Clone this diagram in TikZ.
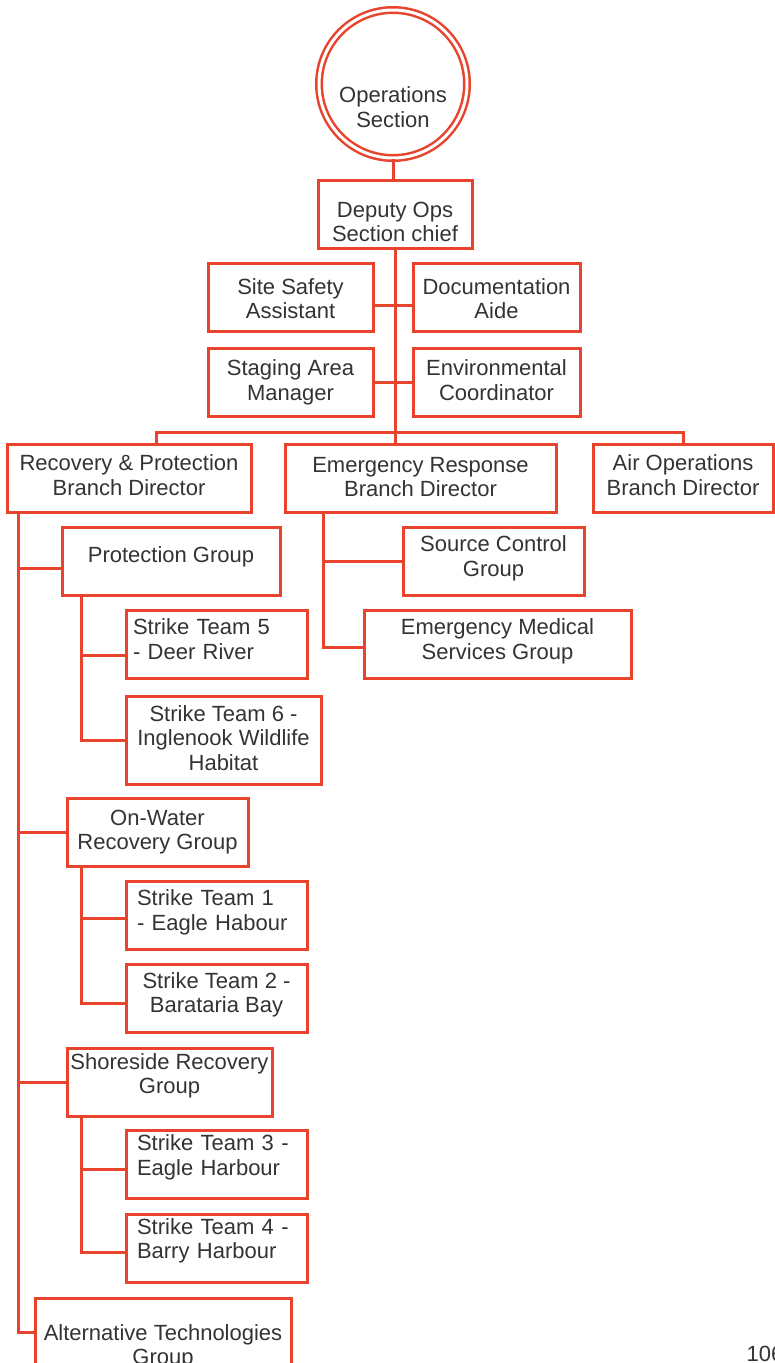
\documentclass[tikz,border=0pt]{standalone}
\usepackage{fontspec}
\setmainfont{Liberation Sans}
\definecolor{icsred}{HTML}{E8432D}
\definecolor{icstext}{HTML}{333333}

\tikzset{
    box/.style={draw=icsred, line width=3pt, rectangle, minimum height=68pt,
        inner xsep=2pt, inner ysep=0pt, align=center, text=icstext,
        font=\fontsize{22}{24.5}\selectfont, text depth=0pt},
    teambox/.style={box, align=left, text height=0pt},
    head/.style={circle, draw=icsred, line width=2.5pt, double=white,
        double distance=3pt, minimum size=148pt, inner sep=0pt, align=center,
        text=icstext, font=\fontsize{22}{24.5}\selectfont, text depth=0pt},
    link/.style={draw=icsred, line width=3pt},
    pagenum/.style={anchor=base west, text=icstext, font=\fontsize{22}{24.5}\selectfont}
}

\begin{document}
\begin{tikzpicture}[x=1pt, y=-1pt]
    \useasboundingbox (0,0) rectangle (774,1363);

    % Section head and deputy
    \node[head, text height=86.3pt] (ops) at (393,84) {Operations\\Section};
    \node[box, minimum width=154pt, text height=55.3pt] (deputy) at (395,214) {Deputy Ops\\Section chief};

    % Staff around the deputy
    \node[box, minimum width=165pt, text height=43.3pt] (site) at (290.5,297) {Site Safety\\Assistant};
    \node[box, minimum width=167pt, text height=43.3pt] (doc) at (496.5,297) {Documentation\\Aide};
    \node[box, minimum width=165pt, text height=36.3pt] (staging) at (290.5,382) {Staging Area\\Manager};
    \node[box, minimum width=167pt, text height=36.3pt] (env) at (496.5,382) {Environmental\\Coordinator};

    % Branches
    \node[box, minimum width=244pt, text height=34.3pt] (rpb) at (129,478) {Recovery \& Protection\\Branch Director};
    \node[box, minimum width=271pt, text height=37.3pt] (erb) at (420.5,478) {Emergency Response\\Branch Director};
    \node[box, minimum width=180pt, text height=34.3pt] (aob) at (683,478) {Air Operations\\Branch Director};

    % Emergency response groups
    \node[box, minimum width=181pt, text height=30.3pt] (scg) at (493.5,561) {Source Control\\Group};
    \node[box, minimum width=267pt, text height=30.3pt] (ems) at (497.5,644) {Emergency Medical\\Services Group};

    % Protection group
    \node[box, minimum width=218pt, text height=3.8pt] (pg) at (171,561) {Protection Group};
    \node[teambox, minimum width=181pt, text width=167pt, text depth=18.7pt] (st5) at (216.5,644) {Strike Team 5\\- Deer River};
    \node[box, minimum width=195pt, minimum height=88pt, text height=60.8pt] (st6) at (223.5,740) {Strike Team 6 -\\Inglenook Wildlife\\Habitat};

    % On-water recovery group
    \node[box, minimum width=181pt, text height=34.3pt] (owr) at (157.5,832.5) {On-Water\\Recovery Group};
    \node[teambox, minimum width=181pt, text width=159pt, text depth=19.7pt] (st1) at (216.5,915.5) {Strike Team 1\\- Eagle Habour};
    \node[box, minimum width=181pt, text height=29.3pt] (st2) at (216.5,998) {Strike Team 2 -\\Barataria Bay};

    % Shoreside recovery group
    \node[box, minimum width=205pt, text height=23.3pt] (srg) at (169.5,1082) {Shoreside Recovery\\Group};
    \node[teambox, minimum width=181pt, text width=159pt, text depth=27.7pt] (st3) at (216.5,1164.5) {Strike Team 3 -\\Eagle Harbour};
    \node[teambox, minimum width=181pt, text width=159pt, text depth=27.7pt] (st4) at (216.5,1248) {Strike Team 4 -\\Barry Harbour};

    % Alternative technologies
    \node[box, minimum width=256pt, text height=65.3pt] (atg) at (163,1332) {Alternative Technologies\\Group};

    \node[pagenum] (pageno) at (743,1361) {106};

    % Trunk lines
    \coordinate (busl) at (156,432);
    \coordinate (rtrunk) at (18,0);
    \coordinate (pgt) at (81,0);
    \coordinate (owt) at (81,0);
    \coordinate (srt) at (81,0);
    \coordinate (ert) at (323,0);

    % Entry points
    \coordinate (sitein) at ([yshift=-8pt]site.east);
    \coordinate (docin) at ([yshift=-8pt]doc.west);
    \coordinate (pgin) at ([yshift=-7pt]pg.west);
    \coordinate (st5in) at ([yshift=-11pt]st5.west);
    \coordinate (st1in) at ([yshift=-2.5pt]st1.west);
    \coordinate (st2in) at ([yshift=-5pt]st2.west);
    \coordinate (st3in) at ([yshift=-4.5pt]st3.west);
    \coordinate (st4in) at ([yshift=-4pt]st4.west);
    \coordinate (emsin) at ([yshift=-3pt]ems.west);

    % Connectors
    \draw[link] (ops.south) -- (ops.south |- deputy.north);
    \draw[link] (deputy.south) -- (deputy.south |- erb.north);
    \draw[link] (sitein) -- (docin);
    \draw[link] (staging.east) -- (env.west);
    \draw[link] (rpb.north -| busl) -- (busl) -| (aob.north);

    \draw[link] (erb.south -| ert) |- (emsin);
    \draw[link] (scg.west) -- (scg.west -| ert);

    \draw[link] (rpb.south -| rtrunk) |- (atg.west);
    \draw[link] (pgin) -- (pgin -| rtrunk);
    \draw[link] (owr.west) -- (owr.west -| rtrunk);
    \draw[link] (srg.west) -- (srg.west -| rtrunk);

    \draw[link] (pg.south -| pgt) |- (st6.west);
    \draw[link] (st5in) -- (st5in -| pgt);
    \draw[link] (owr.south -| owt) |- (st2in);
    \draw[link] (st1in) -- (st1in -| owt);
    \draw[link] (srg.south -| srt) |- (st4in);
    \draw[link] (st3in) -- (st3in -| srt);
\end{tikzpicture}
\end{document}
